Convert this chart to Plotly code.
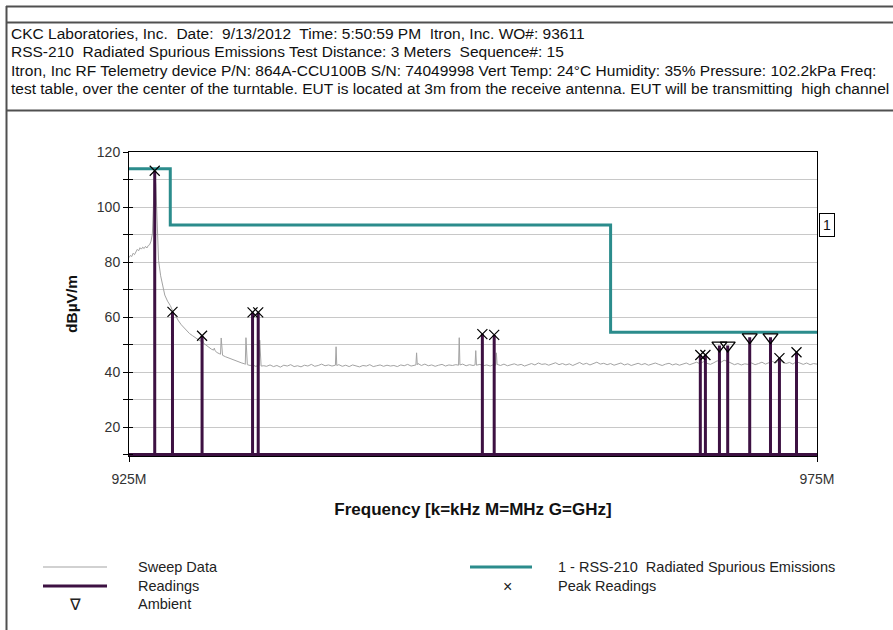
import plotly.graph_objects as go

# ---------------- data ----------------
sweep_freq_mhz = [
    925.0, 925.1, 925.2, 925.3, 925.4, 925.5, 925.6, 925.7, 925.8, 925.9,
    926.0, 926.1, 926.2, 926.3, 926.4, 926.5, 926.6, 926.7, 926.8, 926.87,
    926.95, 927.05, 927.15, 927.3, 927.45, 927.6, 927.8, 928.0, 928.2, 928.4,
    928.6, 928.8, 929.0, 929.2, 929.4, 929.6, 929.8, 930.0, 930.2, 930.3,
    930.4, 930.6, 930.8, 931.0, 931.15, 931.2, 931.25, 931.4, 931.6, 931.65,
    931.7, 931.8, 932.0, 932.2, 932.4, 932.6, 932.8, 933.0, 933.2, 933.4,
    933.45, 933.5, 933.6, 933.8, 934.0, 934.2, 934.4, 934.45, 934.5, 934.6,
    934.8,
    935.0, 935.25, 935.5, 935.75, 936.0, 936.25, 936.5, 936.75, 937.0, 937.25,
    937.5, 937.75, 938.0, 938.25, 938.5, 938.75, 939.0, 939.25, 939.5, 939.75,
    940.0, 940.05, 940.1, 940.25, 940.5, 940.75, 941.0, 941.25, 941.5, 941.75,
    942.0, 942.25, 942.5, 942.75, 943.0, 943.25, 943.5, 943.75, 944.0, 944.25,
    944.5, 944.75, 945.0, 945.25, 945.5, 945.75, 945.85, 945.9, 945.95, 946.0,
    946.25, 946.5, 946.75, 947.0, 947.25, 947.5, 947.75, 948.0, 948.25, 948.5,
    948.75, 948.95, 949.0, 949.05, 949.25, 949.5, 949.75, 950.0, 950.15, 950.2,
    950.25, 950.5, 950.75, 951.0, 951.25, 951.5, 951.65, 951.7, 951.75, 952.0,
    952.25, 952.5, 952.75, 953.0, 953.25, 953.5, 953.75, 954.0, 954.25, 954.5,
    954.75, 955.0, 955.25, 955.5, 955.75, 956.0, 956.25, 956.5, 956.75, 957.0,
    957.25, 957.5, 957.75, 958.0, 958.25, 958.5, 958.75, 959.0, 959.25, 959.5,
    959.75, 960.0, 960.25, 960.5, 960.75, 961.0, 961.25, 961.5, 961.75, 962.0,
    962.25, 962.5, 962.75, 963.0, 963.25, 963.5, 963.75, 964.0, 964.25, 964.5,
    964.75, 965.0, 965.25, 965.5, 965.75, 966.0, 966.25, 966.5, 966.75, 967.0,
    967.25, 967.5, 967.75, 968.0, 968.25, 968.5, 968.75, 969.0, 969.25, 969.5,
    969.75, 970.0, 970.25, 970.5, 970.75, 971.0, 971.25, 971.5, 971.75, 972.0,
    972.25, 972.5, 972.75, 973.0, 973.25, 973.5, 973.75, 974.0, 974.25, 974.5,
    974.75, 975.0,
]
sweep_dbuv_m = [
    81.6, 82.4, 82.0, 83.2, 82.7, 84.0, 84.6, 84.1, 85.2, 84.7,
    85.4, 84.9, 85.7, 85.1, 86.0, 86.3, 87.6, 90.2, 103.5, 113.2,
    108.0, 92.0, 80.5, 75.0, 71.2, 68.0, 65.8, 64.2, 62.0, 60.1,
    58.6, 57.2, 56.0, 55.1, 54.0, 53.3, 52.6, 51.8, 51.2, 53.5,
    50.6, 49.8, 49.0, 48.3, 48.0, 48.7, 47.8, 47.1, 46.6, 46.5,
    52.4, 46.1, 45.6, 45.2, 44.7, 44.3, 44.0, 43.6, 43.3, 43.0,
    42.8, 52.5, 42.7, 42.4, 42.6, 42.1, 42.3, 42.4, 51.6, 42.2,
    42.3,
    42.1, 42.6, 42.0, 42.4, 41.8, 42.5, 42.2, 42.7, 42.0, 42.3,
    41.9, 42.5, 42.2, 42.8, 42.1, 42.4, 42.9, 42.3, 42.6, 42.2,
    42.5, 49.2, 42.4, 42.7, 42.1, 42.5, 42.0, 42.6, 42.3, 41.9,
    42.4, 42.2, 42.7, 42.0, 42.3, 42.6, 42.1, 42.5, 42.2, 42.4,
    42.0, 42.6, 42.3, 42.8, 42.2, 42.5, 42.6, 47.0, 42.7, 43.1,
    42.4, 42.9, 42.3, 42.6, 42.1, 42.5, 42.8, 42.2, 42.6, 42.4,
    42.7, 42.5, 52.5, 42.6, 42.9, 42.3, 42.7, 42.4, 42.6, 47.8,
    42.5, 42.8, 42.3, 42.6, 42.2, 42.7, 42.5, 47.0, 42.8, 42.4,
    42.9, 42.3, 42.6, 43.0, 42.5, 42.8, 42.2, 42.7, 43.1, 42.6,
    43.3, 42.8, 43.0, 42.5, 42.9, 43.4, 42.7, 43.1, 42.6, 43.0,
    42.4, 42.9, 43.5, 42.8, 43.2, 42.6, 43.0, 43.6, 42.9, 43.2,
    42.7, 43.1, 42.5, 42.9, 43.3, 42.6, 43.0, 42.4, 42.8, 43.2,
    42.7, 43.1, 42.5, 42.9, 43.3, 42.8, 42.4, 42.9, 43.2, 42.6,
    43.0, 42.5, 42.9, 43.3, 42.7, 43.1, 43.6, 43.0, 43.8, 43.2,
    42.8, 43.4, 44.1, 43.5, 44.3, 43.9, 43.2, 42.7, 43.1, 42.6,
    43.0, 42.8, 43.3, 42.7, 43.1, 43.6, 42.9, 43.4, 43.9, 43.3,
    44.2, 43.6, 43.1, 43.5, 42.9, 43.8, 43.2, 42.8, 43.3, 42.7,
    43.1, 42.9,
]

limit_edges_mhz = [925.0, 928.0, 960.0, 975.0]
limit_levels = [113.9, 93.5, 54.5]

peak_freq_mhz = [926.87, 928.16, 930.31, 933.98, 934.39, 950.68, 951.54,
                 966.52, 966.89, 972.27, 973.51]
peak_dbuv_m = [113.2, 61.9, 53.2, 61.7, 61.7, 53.8, 53.5,
               46.2, 46.2, 45.1, 47.2]

ambient_freq_mhz = [967.91, 968.51, 970.11, 971.62]
ambient_dbuv_m = [49.7, 49.7, 52.7, 52.7]

x_range = [925.0, 975.0]
x_tick_vals = [925.0, 975.0]
x_tick_text = ["925M", "975M"]
y_range = [9.5, 120.0]
y_floor = 10.0
y_tick_vals = [20, 40, 60, 80, 100, 120]
limit_label = "1"

header_lines = [
    "CKC Laboratories, Inc.\u00a0 Date:\u00a0 9/13/2012\u00a0 Time: 5:50:59 PM\u00a0 Itron, Inc. WO#: 93611",
    "RSS-210\u00a0 Radiated Spurious Emissions Test Distance: 3 Meters\u00a0 Sequence#: 15",
    "Itron, Inc RF Telemetry device P/N: 864A-CCU100B S/N: 74049998 Vert Temp: 24\u00b0C Humidity: 35% Pressure: 102.2kPa Freq:",
    "test table, over the center of the turntable. EUT is located at 3m from the receive antenna. EUT will be transmitting\u00a0 high channel",
]

# ---------------- styling / layout ----------------
W, H = 893, 630
L, R, T, B = 129, 76, 152, 174
PW, PH = W - L - R, H - T - B

def px(x):
    return (x - L) / PW

def py(y):
    return (H - B - y) / PH

FONT = "Liberation Sans, Arial, sans-serif"
SWEEP_C = "#a3a3a3"
READ_C = "#3d1142"
LIMIT_C = "#2b8c8c"

fig = go.Figure()

fig.add_trace(go.Scatter(x=sweep_freq_mhz, y=sweep_dbuv_m, mode="lines",
                         line=dict(color=SWEEP_C, width=1), name="Sweep Data",
                         showlegend=False, hoverinfo="skip"))

lim_x = list(limit_edges_mhz)
lim_y = list(limit_levels) + [limit_levels[-1]]
fig.add_trace(go.Scatter(x=lim_x, y=lim_y, mode="lines", line_shape="hv",
                         line=dict(color=LIMIT_C, width=3),
                         name="1 - RSS-210  Radiated Spurious Emissions", showlegend=False))

readings = sorted(list(zip(peak_freq_mhz, peak_dbuv_m)) + list(zip(ambient_freq_mhz, ambient_dbuv_m)))
rx, ry = [x_range[0]], [y_floor]
for f, v in readings:
    rx += [f, f, f]
    ry += [y_floor, v, y_floor]
rx.append(x_range[1]); ry.append(y_floor)
fig.add_trace(go.Scatter(x=rx, y=ry, mode="lines", line=dict(color=READ_C, width=3),
                         name="Readings", showlegend=False, hoverinfo="skip"))

fig.add_trace(go.Scatter(x=peak_freq_mhz, y=peak_dbuv_m, mode="markers",
                         marker=dict(symbol="x-thin-open", size=10, color="#000",
                                     line=dict(color="#000", width=1.2)),
                         name="Peak Readings", showlegend=False, cliponaxis=False))
fig.add_trace(go.Scatter(x=ambient_freq_mhz, y=ambient_dbuv_m, mode="markers",
                         marker=dict(symbol="triangle-down-open", size=13, color="#000",
                                     line=dict(color="#000", width=1.3)),
                         name="Ambient", showlegend=False, cliponaxis=False))

# helper trace so the inner tick marks of the left axis get drawn
fig.add_trace(go.Scatter(x=[None], y=[None], yaxis="y2", showlegend=False, hoverinfo="skip"))

fig.update_xaxes(range=x_range, tickvals=x_tick_vals, ticktext=x_tick_text,
                 ticks="outside", ticklen=5, tickcolor="#000", showgrid=False,
                 ticklabelstandoff=5,
                 zeroline=False, showline=True, linecolor="#000", linewidth=1, mirror=True,
                 tickfont=dict(family=FONT, size=14, color="#333"),
                 title=dict(text="<b>Frequency [k=kHz M=MHz G=GHz]</b>", standoff=17,
                            font=dict(family=FONT, size=17, color="#111")))
fig.update_yaxes(range=y_range, tickvals=y_tick_vals, ticks="outside", ticklen=5,
                 tickcolor="#000", showgrid=True, gridcolor="#c8c8c8", gridwidth=1,
                 minor=dict(dtick=10, tick0=0, ticks="outside", ticklen=5, tickcolor="#000",
                            showgrid=True, gridcolor="#c8c8c8"),
                 zeroline=False, showline=True, linecolor="#000", linewidth=1, mirror=True,
                 tickfont=dict(family=FONT, size=14, color="#333"),
                 title=dict(text="<b>dB\u00b5V/m</b>", standoff=15,
                            font=dict(family=FONT, size=15.5, color="#111")))

shapes = []
border = dict(color="#505050", width=2)
for yy in (6.5, 22.5, 110.5):
    shapes.append(dict(type="line", xref="paper", yref="paper", x0=px(6), x1=px(W + 5),
                       y0=py(yy), y1=py(yy), line=border))
shapes.append(dict(type="line", xref="paper", yref="paper", x0=px(6.5), x1=px(6.5),
                   y0=py(6), y1=py(H + 5), line=border))

annotations = []
for i, line in enumerate(header_lines):
    annotations.append(dict(text=line, xref="paper", yref="paper", x=px(9), y=py(33.5 + 18.3 * i),
                            xanchor="left", yanchor="middle", showarrow=False,
                            font=dict(family=FONT, size=15.5, color="#111")))

annotations.append(dict(text=limit_label, xref="x", yref="y", x=x_range[1], y=limit_levels[1],
                        xanchor="left", yanchor="middle", xshift=2, showarrow=False,
                        bordercolor="#000", borderwidth=1, borderpad=3, bgcolor="#fff",
                        font=dict(family=FONT, size=14, color="#111")))

rows = [567, 586, 604]
def leg_line(x0, x1, y, color, width):
    shapes.append(dict(type="line", xref="paper", yref="paper", x0=px(x0), x1=px(x1),
                       y0=py(y), y1=py(y), line=dict(color=color, width=width)))
def leg_text(x, y, text, size=14.5, anchor="left"):
    annotations.append(dict(text=text, xref="paper", yref="paper", x=px(x), y=py(y),
                            xanchor=anchor, yanchor="middle", showarrow=False,
                            font=dict(family=FONT, size=size, color="#222")))

leg_line(43, 107, rows[0], SWEEP_C, 1)
leg_text(136, rows[0], "Sweep Data")
leg_line(43, 107, rows[1], READ_C, 3)
leg_text(136, rows[1], "Readings")
leg_text(75, rows[2], "\u2207", size=16, anchor="center")
leg_text(136, rows[2], "Ambient")
leg_line(470, 532, rows[0], LIMIT_C, 3)
leg_text(556, rows[0], "1 - RSS-210\u00a0 Radiated Spurious Emissions")
leg_text(507, rows[1], "\u00d7", size=16, anchor="center")
leg_text(556, rows[1], "Peak Readings")

fig.update_layout(width=W, height=H, margin=dict(l=L, r=R, t=T, b=B, pad=0),
                  paper_bgcolor="#fff", plot_bgcolor="#fff", showlegend=False,
                  shapes=shapes, annotations=annotations,
                  font=dict(family=FONT),
                  yaxis2=dict(overlaying="y", matches="y", side="left", range=y_range,
                              tickvals=y_tick_vals, ticks="inside", ticklen=4, tickcolor="#000",
                              minor=dict(dtick=10, tick0=0, ticks="inside", ticklen=4,
                                         tickcolor="#000", showgrid=False),
                              showticklabels=False, showgrid=False, zeroline=False,
                              showline=False))

fig.write_html("out.html", config={"displayModeBar": False},
               post_script="document.body.style.margin='0';document.body.style.overflow='hidden';")
